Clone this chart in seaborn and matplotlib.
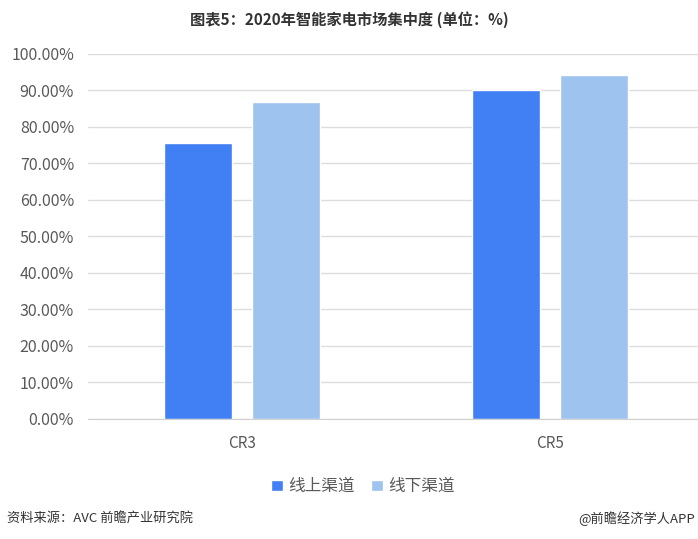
import matplotlib
matplotlib.use('Agg')
import matplotlib.pyplot as plt
import pandas as pd
import seaborn as sns
from matplotlib.ticker import FuncFormatter

# data
categories = ['CR3', 'CR5']
series_names = ['线上渠道', '线下渠道']
online_values = [75.7, 90.1]
offline_values = [86.9, 94.2]
y_ticks = [0, 10, 20, 30, 40, 50, 60, 70, 80, 90, 100]

TITLE = '图表5：2020年智能家电市场集中度 (单位：%)'
SOURCE = '资料来源：AVC 前瞻产业研究院'
CREDIT = '@前瞻经济学人APP'

COLORS = ['#4080F4', '#9FC3EF']

df = pd.DataFrame({
    'category': categories * 2,
    'channel': [series_names[0]] * len(categories) + [series_names[1]] * len(categories),
    'value': online_values + offline_values,
})

sns.set_style('white')
plt.rcParams['font.family'] = ['Noto Sans CJK SC', 'DejaVu Sans']

fig = plt.figure(figsize=(6.98, 5.39), dpi=100)
ax = fig.add_axes([0.126, 0.223, 0.874, 0.677])

sns.barplot(
    data=df, x='category', y='value', hue='channel',
    hue_order=series_names, palette=COLORS,
    width=0.57, gap=0.22, saturation=1, ax=ax, legend=True,
)

ax.set_ylim(0, 100)
ax.set_xlim(-0.5, 1.48)
ax.set_yticks(y_ticks)
ax.yaxis.set_major_formatter(FuncFormatter(lambda v, _: f'{v:.2f}%'))
ax.grid(axis='y', color='#DDDDDD', linewidth=1)
ax.set_axisbelow(True)
for side in ['top', 'right', 'left']:
    ax.spines[side].set_visible(False)
ax.spines['bottom'].set_color('#D0D0D0')
ax.tick_params(axis='y', length=0, labelsize=11.5, labelcolor='#595959', pad=10)
ax.tick_params(axis='x', length=0, labelsize=11, labelcolor='#595959', pad=12)
ax.set_xlabel('')
ax.set_ylabel('')

handles, labels = ax.get_legend_handles_labels()
ax.legend_.remove()
fig.legend(
    handles, labels, loc='center', bbox_to_anchor=(0.52, 0.097), ncol=2,
    frameon=False, handlelength=0.7, handleheight=0.7, handletextpad=0.3,
    columnspacing=1.0, prop={'size': 12},
    labelcolor='#595959',
)

fig.text(0.5, 0.963, TITLE, ha='center', va='center', fontsize=11,
         fontweight='bold', color='#333333')
fig.text(0.01, 0.038, SOURCE, ha='left', va='center', fontsize=9.5, color='#333333')
fig.text(0.995, 0.038, CREDIT, ha='right', va='center', fontsize=9.5, color='#333333')

fig.savefig('out.png', dpi=100)
plt.close(fig)
